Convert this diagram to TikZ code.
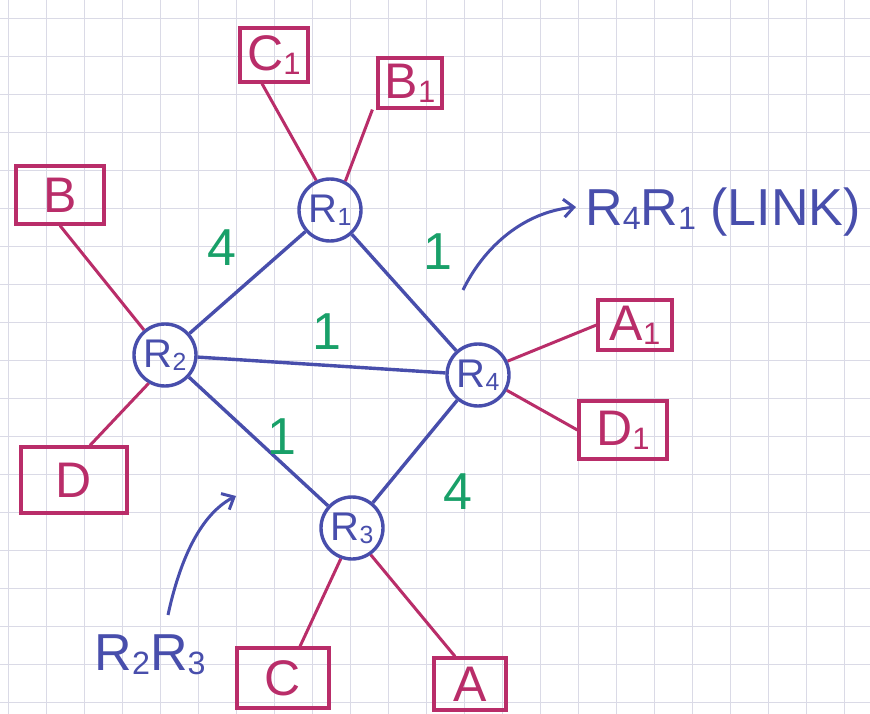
\documentclass[tikz,border=0pt]{standalone}
\usepackage{fontspec}
\setmainfont{Liberation Sans}
\usetikzlibrary{arrows.meta}
\definecolor{pinkc}{RGB}{185,45,105}
\definecolor{bluec}{RGB}{72,78,172}
\definecolor{greenc}{RGB}{25,160,105}
\definecolor{gridc}{RGB}{218,218,230}
\newcommand{\lowix}[1]{\raisebox{-0.08em}{\scalebox{0.62}{#1}}}
\begin{document}
\begin{tikzpicture}[x=1pt,y=-1pt,
  gridline/.style={draw=gridc, line width=0.9pt},
  host/.style={draw=pinkc, line width=3.2pt, text=pinkc, inner sep=0pt,
    font=\fontsize{50}{50}\selectfont},
  router/.style={circle, draw=bluec, line width=3.4pt, text=bluec, inner sep=0pt,
    minimum size=62pt, font=\fontsize{40}{40}\selectfont},
  hostlink/.style={draw=pinkc, line width=3pt},
  rlink/.style={draw=bluec, line width=3.4pt},
  weight/.style={text=greenc, font=\fontsize{52}{52}\selectfont},
  anno/.style={text=bluec, font=\fontsize{52}{52}\selectfont, inner sep=0pt},
  annoarrow/.style={draw=bluec, line width=3pt, -{Straight Barb[length=10pt,width=18pt]}}
]
\useasboundingbox (0,0) rectangle (870,714);
\fill[white] (0,0) rectangle (870,714);
\foreach \i in {0,...,22} \draw[gridline] (8+38*\i,0) -- (8+38*\i,714);
\foreach \j in {0,...,18} \draw[gridline] (0,18+38*\j) -- (870,18+38*\j);

% routers
\node[router] (R1) at (330,210) {R\lowix{1}};
\node[router] (R2) at (165,355) {R\lowix{2}};
\node[router] (R3) at (352,528) {R\lowix{3}};
\node[router] (R4) at (478,375) {R\lowix{4}};

% hosts
\node[host, minimum width=68pt, minimum height=54pt] (C1) at (274,55) {C\lowix{1}};
\node[host, minimum width=64pt, minimum height=50pt] (B1) at (410,83) {B\lowix{1}};
\node[host, minimum width=88pt, minimum height=58pt] (B) at (60,195) {B};
\node[host, minimum width=106pt, minimum height=66pt] (D) at (74,480) {D};
\node[host, minimum width=74pt, minimum height=50pt] (A1) at (635,325) {A\lowix{1}};
\node[host, minimum width=88pt, minimum height=58pt] (D1) at (623,430) {D\lowix{1}};
\node[host, minimum width=92pt, minimum height=60pt] (C) at (283,678) {C};
\node[host, minimum width=72pt, minimum height=52pt] (A) at (470,684) {A};

% router links
\draw[rlink] (R1) -- (R2);
\draw[rlink] (R1) -- (R4);
\draw[rlink] (R2) -- (R4);
\draw[rlink] (R2) -- (R3);
\draw[rlink] (R3) -- (R4);

% host links
\draw[hostlink] ([xshift=-12pt]C1.south) -- (R1.115);
\draw[hostlink] ([xshift=-4pt]B1.south west) -- (R1.62);
\draw[hostlink] (B.south) -- (R2.130);
\draw[hostlink] ([xshift=16pt]D.north) -- (R2.240);
\draw[hostlink] (A1.west) -- (R4.25);
\draw[hostlink] (D1.west) -- (R4.-28);
\draw[hostlink] ([xshift=17pt]C.north) -- (R3.-110);
\draw[hostlink] ([xshift=-15pt]A.north) -- (R3.-55);

% weights
\node[weight] (w12) at (222,248) {4};
\node[weight] (w14) at (438,252) {1};
\node[weight] (w24) at (327,332) {1};
\node[weight] (w23) at (282,437) {1};
\node[weight] (w34) at (458,492) {4};

% annotations
\node[anno, anchor=west] (L1) at (585,212) {R\lowix{4}R\lowix{1} (LINK)};
\coordinate (a1s) at (463,290);
\coordinate (a1e) at (576,207);
\draw[annoarrow] (a1s) .. controls (485,245) and (525,212) .. (a1e);

\node[anno] (L2) at (150,655) {R\lowix{2}R\lowix{3}};
\coordinate (a2s) at (168,615);
\coordinate (a2e) at (236,496);
\draw[annoarrow] (a2s) .. controls (182,550) and (205,512) .. (a2e);
\end{tikzpicture}
\end{document}
